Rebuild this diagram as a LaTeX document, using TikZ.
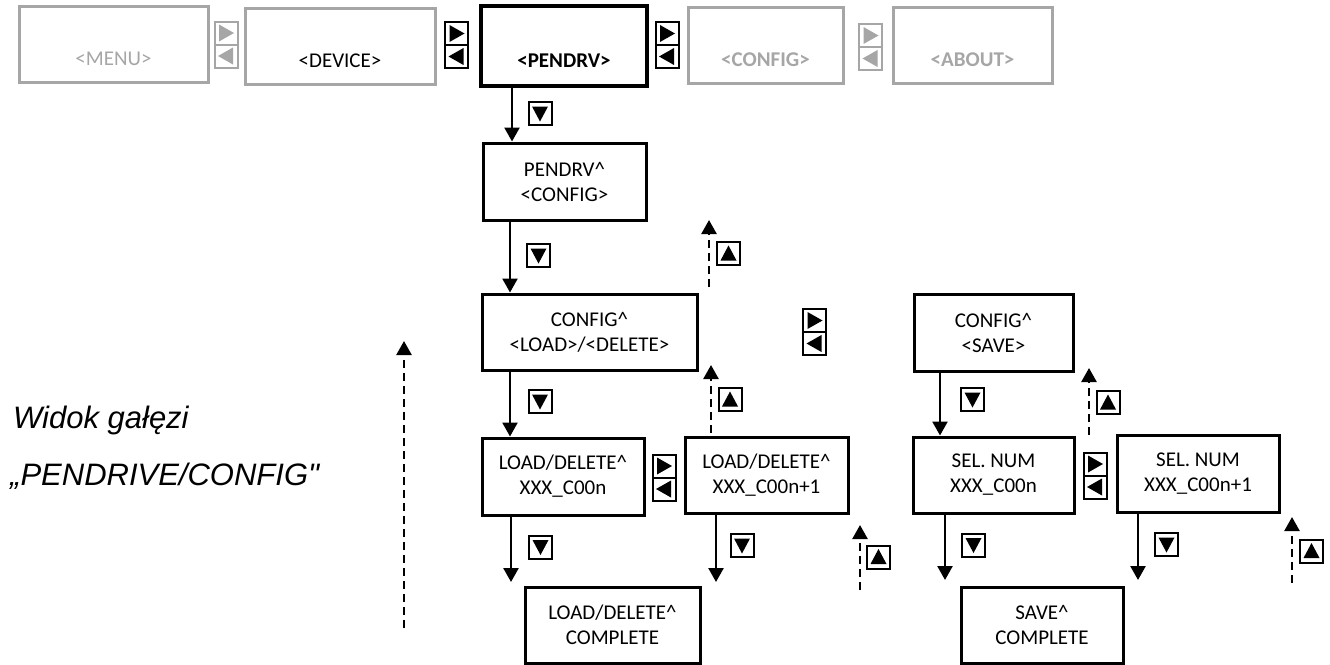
\documentclass[tikz,border=0pt]{standalone}
\usepackage{fontspec}
\usepackage{xcolor}
\usepackage{tikz}
\usetikzlibrary{arrows.meta}
\setmainfont{Carlito}
\newfontfamily\labelfont{Liberation Sans}
\definecolor{menugray}{HTML}{A6A6A6}

\tikzset{
    screen/.style={draw,line width=3pt,minimum height=76pt,align=center,inner sep=0pt,font=\fontsize{21}{25}\selectfont},
    greyscreen/.style={screen,draw=menugray},
    flow/.style={line width=2.5pt,-{Triangle[width=15pt,length=14pt]}},
    back/.style={line width=2.5pt,dash pattern=on 8pt off 5pt,-{Triangle[width=15pt,length=14pt]}},
    pics/keydown/.style={code={
        \draw[line width=2pt] (-11.5,-11.5) rectangle (11.5,11.5);
        \fill (-8,-7) -- (8,-7) -- (0,8) -- cycle;}},
    pics/keyup/.style={code={
        \draw[line width=2pt] (-11.5,-11.5) rectangle (11.5,11.5);
        \fill (-8,7) -- (8,7) -- (0,-8) -- cycle;}},
    pics/keypair/.style={code={
        \draw[line width=2pt] (-11.5,-23) rectangle (11.5,0) rectangle (-11.5,23);
        \fill (-7,-20) -- (-7,-3) -- (8,-11.5) -- cycle;
        \fill (7,3) -- (7,20) -- (-8,11.5) -- cycle;}}
}

\begin{document}
\begin{tikzpicture}[x=1pt,y=-1pt]
        \useasboundingbox (0,0) rectangle (1330,664);

        % Top menu row
        \node[greyscreen,minimum width=189pt,text=menugray] (menu) at (113.5,44.5) {\strut\\<MENU>};
        \node[greyscreen,minimum width=190pt] (device) at (340,46) {\strut\\<DEVICE>};
        \node[screen,line width=4pt,minimum width=166pt,minimum height=80pt] (pendrv) at (564,46) {\strut\\\textbf{<PENDRV>}};
        \node[greyscreen,minimum width=155pt,text=menugray] (config) at (765.5,45) {\strut\\\textbf{<CONFIG>}};
        \node[greyscreen,minimum width=159pt,text=menugray] (about) at (972.5,45) {\strut\\\textbf{<ABOUT>}};
        \pic[menugray] at (226,44.5) {keypair};
        \pic at (456.5,45) {keypair};
        \pic at (667,45) {keypair};
        \pic[menugray] at (870.5,47) {keypair};

        % Screens of the branch
        \node[screen,minimum width=163pt,minimum height=77pt] (pendrvcfg) at (564.5,181.5) {PENDRV\textasciicircum\\<CONFIG>};
        \node[screen,minimum width=215pt] (cfgload) at (589.5,332) {CONFIG\textasciicircum\\<LOAD>/<DELETE>};
        \node[screen,minimum width=159pt,minimum height=77pt] (cfgsave) at (993.5,332.5) {CONFIG\textasciicircum\\<SAVE>};
        \node[screen,minimum width=162pt,minimum height=77pt] (ldn) at (563,476.5) {LOAD/DELETE\textasciicircum\\XXX\_C00n};
        \node[screen,minimum width=163pt] (ldnext) at (766.5,475) {LOAD/DELETE\textasciicircum\\XXX\_C00n+1};
        \node[screen,minimum width=161pt] (seln) at (993.5,475) {SEL. NUM\\XXX\_C00n};
        \node[screen,minimum width=162pt,minimum height=77pt] (selnext) at (1198,473.5) {SEL. NUM\\XXX\_C00n+1};
        \node[screen,minimum width=175pt] (ldcomplete) at (612.5,625) {LOAD/DELETE\textasciicircum\\COMPLETE};
        \node[screen,minimum width=162pt] (savecomplete) at (1042,625) {SAVE\textasciicircum\\COMPLETE};

        % Label
        \node[anchor=base west,inner sep=0pt,font=\labelfont\itshape\fontsize{31}{37}\selectfont] (viewname) at (13,428) {Widok gałęzi};
        \node[anchor=base west,inner sep=0pt,font=\labelfont\itshape\fontsize{31}{37}\selectfont] (viewpath) at (10,485) {„PENDRIVE/CONFIG"};

        % Free ends
        \coordinate (ldnend) at (511,582);
        \coordinate (ldnextend) at (716,582);
        \coordinate (selnend) at (945,580);
        \coordinate (selnextend) at (1138,580);
        \coordinate (backa0) at (709,287);  \coordinate (backa1) at (709,220);
        \coordinate (backb0) at (711,433);  \coordinate (backb1) at (711,365);
        \coordinate (backc0) at (860,590);  \coordinate (backc1) at (860,525);
        \coordinate (backd0) at (1089,435); \coordinate (backd1) at (1089,368);
        \coordinate (backe0) at (1292,583); \coordinate (backe1) at (1292,517);
        \coordinate (backf0) at (404,628);  \coordinate (backf1) at (404,341);

        % Arrows
        \draw[flow] (pendrv.south -| 512,0) -- (pendrvcfg.north -| 512,0);
        \draw[flow] (pendrvcfg.south -| 510,0) -- (cfgload.north -| 510,0);
        \draw[flow] (cfgload.south -| 510,0) -- (ldn.north -| 510,0);
        \draw[flow] (cfgsave.south -| 940,0) -- (seln.north -| 940,0);
        \draw[flow] (ldn.south -| ldnend) -- (ldnend);
        \draw[flow] (ldnext.south -| ldnextend) -- (ldnextend);
        \draw[flow] (seln.south -| selnend) -- (selnend);
        \draw[flow] (selnext.south -| selnextend) -- (selnextend);
        \draw[back] (backa0) -- (backa1);
        \draw[back] (backb0) -- (backb1);
        \draw[back] (backc0) -- (backc1);
        \draw[back] (backd0) -- (backd1);
        \draw[back] (backe0) -- (backe1);
        \draw[back] (backf0) -- (backf1);

        % Keys
        \pic at (540,113.5) {keydown};
        \pic at (538.5,255.5) {keydown};
        \pic at (540,401.5) {keydown};
        \pic at (972.5,399.5) {keydown};
        \pic at (540.5,547) {keydown};
        \pic at (742,545.5) {keydown};
        \pic at (973.5,545) {keydown};
        \pic at (1166.5,544.5) {keydown};
        \pic at (728.5,253.5) {keyup};
        \pic at (730,399.5) {keyup};
        \pic at (1108,402.5) {keyup};
        \pic at (878.5,557) {keyup};
        \pic at (1311.5,551) {keyup};
        \pic at (814.5,332) {keypair};
        \pic at (664,477.5) {keypair};
        \pic at (1095,475.5) {keypair};
    \end{tikzpicture}
\end{document}
